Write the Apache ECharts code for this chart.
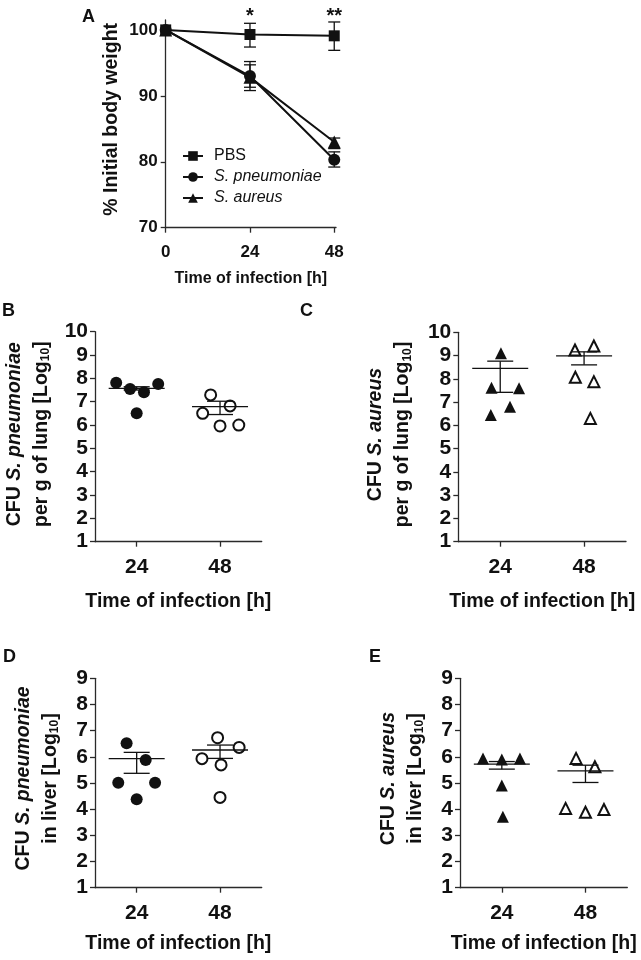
<!DOCTYPE html>
<html>
<head>
<meta charset="utf-8">
<script src="https://cdn.jsdelivr.net/npm/echarts@6/dist/echarts.min.js"></script>
<style>html,body{margin:0;padding:0;background:#fff}#c{width:641px;height:960px}</style>
</head>
<body>
<div id="c"></div>
<script>
// ---------- Panel A: body weight ----------
const weightHours = [0, 24, 48];
const pbsMean = [100, 99.3, 99.1];
const pbsLo   = [100, 97.4, 96.9];
const pbsHi   = [100, 101.0, 101.2];
const spnMean = [100, 93.0, 80.3];
const spnLo   = [100, 90.8, 79.2];
const spnHi   = [100, 95.2, 81.5];
const sauMean = [100, 92.8, 83.0];
const sauLo   = [100, 91.3, 82.0];
const sauHi   = [100, 94.7, 83.6];
const starHours = [24, 48];
const starText = ['*', '**'];
const weightTicks = [70, 80, 90, 100];
const hourTicksA = [0, 24, 48];

// ---------- Panel B: S. pneumoniae lung ----------
const lungSpn24X = [18.1, 22.1, 26.1, 30.2, 24.0];
const lungSpn24Y = [7.81, 7.54, 7.40, 7.76, 6.50];
const lungSpn48X = [45.3, 43.0, 50.9, 48.0, 53.4];
const lungSpn48Y = [7.29, 6.50, 6.82, 5.96, 6.00];
const lungSpnMean = [7.57, 6.79];
const lungSpnLo   = [7.50, 6.45];
const lungSpnHi   = [7.64, 7.02];

// ---------- Panel C: S. aureus lung ----------
const lungSau24X = [24.2, 21.5, 29.4, 26.8, 21.3];
const lungSau24Y = [9.10, 7.62, 7.59, 6.80, 6.45];
const lungSau48X = [45.4, 50.8, 45.5, 50.8, 49.8];
const lungSau48Y = [9.24, 9.41, 8.07, 7.88, 6.30];
const lungSauMean = [8.45, 8.99];
const lungSauLo   = [7.42, 8.60];
const lungSauHi   = [8.76, 9.16];

// ---------- Panel D: S. pneumoniae liver ----------
const liverSpn24X = [21.1, 26.6, 18.7, 29.3, 24.0];
const liverSpn24Y = [6.52, 5.88, 5.01, 5.01, 4.38];
const liverSpn48X = [47.3, 53.5, 42.8, 48.3, 48.0];
const liverSpn48Y = [6.73, 6.36, 5.93, 5.69, 4.45];
const liverSpnMean = [5.93, 6.26];
const liverSpnLo   = [5.37, 5.94];
const liverSpnHi   = [6.17, 6.45];

// ---------- Panel E: S. aureus liver ----------
const liverSau24X = [18.6, 24.0, 29.2, 24.0, 24.3];
const liverSau24Y = [5.94, 5.90, 5.94, 4.90, 3.71];
const liverSau48X = [45.3, 50.7, 42.3, 48.0, 53.3];
const liverSau48Y = [5.94, 5.62, 4.03, 3.88, 3.99];
const liverSauMean = [5.72, 5.46];
const liverSauLo   = [5.53, 5.02];
const liverSauHi   = [5.82, 5.68];

const groupHours = [24, 48];
const lungTicks = [1, 2, 3, 4, 5, 6, 7, 8, 9, 10];
const liverTicks = [1, 2, 3, 4, 5, 6, 7, 8, 9];
const panelLetters = ['A', 'B', 'C', 'D', 'E'];

const FONT = '"Liberation Sans", Arial, Helvetica, sans-serif';
const INK = '#111';
const AXIS = '#2a2a2a';

function zip(xs, ys) { return xs.map((x, i) => [x, ys[i]]); }
function errData(xs, m, lo, hi) { return xs.map((x, i) => [x, m[i], lo[i], hi[i]]); }

function errRender(hw, cw, lw) {
  return function (params, api) {
    const x = api.value(0), m = api.value(1), lo = api.value(2), hi = api.value(3);
    const pm = api.coord([x, m]), pl = api.coord([x, lo]), ph = api.coord([x, hi]);
    const st = { stroke: INK, lineWidth: lw, fill: null };
    const ch = [];
    if (hw > 0) ch.push({ type: 'line', shape: { x1: pm[0] - hw, y1: pm[1], x2: pm[0] + hw, y2: pm[1] }, style: st });
    if (hi !== lo) {
      ch.push({ type: 'line', shape: { x1: pm[0], y1: pl[1], x2: pm[0], y2: ph[1] }, style: st });
      ch.push({ type: 'line', shape: { x1: pm[0] - cw, y1: pl[1], x2: pm[0] + cw, y2: pl[1] }, style: st });
      ch.push({ type: 'line', shape: { x1: pm[0] - cw, y1: ph[1], x2: pm[0] + cw, y2: ph[1] }, style: st });
    }
    return { type: 'group', children: ch };
  };
}

const grids = [
  { left: 165.7, top: 20, width: 170.3, height: 207.7 },
  { left: 95, top: 331.7, width: 166.7, height: 210 },
  { left: 458.3, top: 332.3, width: 167.7, height: 209.4 },
  { left: 95, top: 678.3, width: 166.7, height: 209.4 },
  { left: 460, top: 678.3, width: 167.3, height: 209.4 }
].map(g => Object.assign({ containLabel: false, outerBoundsMode: 'none', show: false }, g));

function xAxisFor(i, ticks, min, max, fs, margin, gap, nameFs) {
  return {
    type: 'value', gridIndex: i, min: min, max: max,
    name: 'Time of infection [h]', nameLocation: 'middle', nameGap: gap,
    nameTextStyle: { fontFamily: FONT, fontWeight: 'bold', fontSize: nameFs, color: INK },
    axisLine: { onZero: false, lineStyle: { color: AXIS, width: 1.3 } },
    axisTick: { customValues: ticks, length: 5, lineStyle: { color: AXIS, width: 1.3 } },
    axisLabel: { customValues: ticks, margin: margin, fontFamily: FONT, fontWeight: 'bold', fontSize: fs, color: INK },
    splitLine: { show: false }
  };
}

const subRich = {
  r: { fontFamily: FONT, fontWeight: 'bold', fontSize: 19.5, color: INK, lineHeight: 27 },
  i: { fontFamily: FONT, fontWeight: 'bold', fontStyle: 'italic', fontSize: 19.5, color: INK, lineHeight: 27 },
  s: { fontFamily: FONT, fontWeight: 'bold', fontSize: 12, color: INK, lineHeight: 12, verticalAlign: 'bottom', padding: [0, 0, 3, 0] }
};

function yAxisFor(i, ticks, min, max, fs, margin, name, gap, nameFs, shift) {
  return {
    type: 'value', gridIndex: i, min: min, max: max,
    name: name, nameLocation: 'middle', nameRotate: 90, nameGap: gap,
    nameTextStyle: { fontFamily: FONT, fontWeight: 'bold', fontSize: nameFs, color: INK, lineHeight: 27, rich: subRich, padding: [0, 0, 0, shift] },
    axisLine: { onZero: false, lineStyle: { color: AXIS, width: 1.3 } },
    axisTick: { customValues: ticks, length: 5, lineStyle: { color: AXIS, width: 1.3 } },
    axisLabel: { customValues: ticks, margin: margin, fontFamily: FONT, fontWeight: 'bold', fontSize: fs, color: INK },
    splitLine: { show: false }
  };
}

const xAxes = [
  xAxisFor(0, hourTicksA, 0, 48.5, 17, 16, 43, 16),
  xAxisFor(1, groupHours, 12, 60, 21, 15, 50, 19.5),
  xAxisFor(2, groupHours, 12, 60, 21, 15, 50, 19.5),
  xAxisFor(3, groupHours, 12, 60, 21, 15, 46, 19.5),
  xAxisFor(4, groupHours, 12, 60, 21, 15, 46, 19.5)
];
const yAxes = [
  yAxisFor(0, weightTicks, 70, 101.5, 17, 8, '{r|% Initial body weight}', 41, 19.5, 9),
  yAxisFor(1, lungTicks, 1, 10, 21, 7, '{r|CFU }{i|S. pneumoniae}\n{r|per g of lung [Log}{s|10}{r|]}', 40, 19.5, 5),
  yAxisFor(2, lungTicks, 1, 10, 21, 7, '{r|CFU }{i|S. aureus}\n{r|per g of lung [Log}{s|10}{r|]}', 42, 19.5, 5),
  yAxisFor(3, liverTicks, 1, 9, 21, 7, '{r|CFU }{i|S. pneumoniae}\n{r|in liver [Log}{s|10}{r|]}', 31, 19.5, 9),
  yAxisFor(4, liverTicks, 1, 9, 21, 7, '{r|CFU }{i|S. aureus}\n{r|in liver [Log}{s|10}{r|]}', 31, 19.5, 9)
];

const series = [];
// Panel A lines
const lineDefs = [
  ['PBS', pbsMean, 'rect', 11, pbsLo, pbsHi],
  ['S. pneumoniae', spnMean, 'circle', 12, spnLo, spnHi],
  ['S. aureus', sauMean, 'triangle', 13, sauLo, sauHi]
];
lineDefs.forEach(d => {
  series.push({
    type: 'custom', xAxisIndex: 0, yAxisIndex: 0, z: 2,
    renderItem: errRender(0, 6, 1.3), data: errData(weightHours, d[1], d[4], d[5]), silent: true
  });
});
lineDefs.forEach(d => {
  series.push({
    name: d[0], type: 'line', xAxisIndex: 0, yAxisIndex: 0, z: 3,
    data: zip(weightHours, d[1]), symbol: d[2], symbolSize: d[3], showSymbol: true,
    lineStyle: { color: INK, width: 2 }, itemStyle: { color: INK }, animation: false
  });
});
series.push({
  type: 'custom', xAxisIndex: 0, yAxisIndex: 0, clip: false, silent: true,
  data: starHours.map((h, i) => [h, 101.5, i]),
  renderItem: function (params, api) {
    const p = api.coord([api.value(0), api.value(1)]);
    return { type: 'text', x: p[0], y: p[1] - 4, style: { text: starText[api.value(2)], fontFamily: FONT, fontWeight: 'bold', fontSize: 20, fill: INK, align: 'center', verticalAlign: 'middle' } };
  }
});

function dotPanel(idx, x24, y24, x48, y48, mean, lo, hi, shape) {
  series.push({ type: 'custom', xAxisIndex: idx, yAxisIndex: idx, z: 1, silent: true,
    renderItem: errRender(28, 13, 1.3), data: errData(groupHours, mean, lo, hi) });
  series.push({ type: 'scatter', xAxisIndex: idx, yAxisIndex: idx, z: 3, symbol: shape, symbolSize: 12,
    data: zip(x24, y24), itemStyle: { color: INK, opacity: 1 } });
  series.push({ type: 'scatter', xAxisIndex: idx, yAxisIndex: idx, z: 3, symbol: shape, symbolSize: 11,
    data: zip(x48, y48), itemStyle: { color: 'rgba(0,0,0,0)', borderColor: INK, borderWidth: 2, opacity: 1 } });
}
dotPanel(1, lungSpn24X, lungSpn24Y, lungSpn48X, lungSpn48Y, lungSpnMean, lungSpnLo, lungSpnHi, 'circle');
dotPanel(2, lungSau24X, lungSau24Y, lungSau48X, lungSau48Y, lungSauMean, lungSauLo, lungSauHi, 'triangle');
dotPanel(3, liverSpn24X, liverSpn24Y, liverSpn48X, liverSpn48Y, liverSpnMean, liverSpnLo, liverSpnHi, 'circle');
dotPanel(4, liverSau24X, liverSau24Y, liverSau48X, liverSau48Y, liverSauMean, liverSauLo, liverSauHi, 'triangle');

const letterPos = [[82, 8], [2, 302], [300, 302], [3, 648], [369, 648]];
const graphics = panelLetters.map((t, i) => ({
  type: 'text', left: letterPos[i][0], top: letterPos[i][1],
  style: { text: t, fontFamily: FONT, fontWeight: 'bold', fontSize: 18, fill: INK }
}));

const chart = echarts.init(document.getElementById('c'), null, { renderer: 'canvas' });
chart.setOption({
  animation: false,
  backgroundColor: '#fff',
  grid: grids,
  xAxis: xAxes,
  yAxis: yAxes,
  legend: {
    data: lineDefs.map(d => d[0]), orient: 'vertical', left: 177, top: 143,
    itemWidth: 20, itemHeight: 12, itemGap: 5, selectedMode: false,
    formatter: n => n === 'PBS' ? '{n|PBS}' : '{i|' + n + '}',
    textStyle: {
      fontFamily: FONT, fontSize: 16, color: INK, padding: [0, 0, 0, 6],
      rich: { n: { fontFamily: FONT, fontSize: 16, color: INK, lineHeight: 16 }, i: { fontFamily: FONT, fontSize: 16, fontStyle: 'italic', color: INK, lineHeight: 16 } }
    }
  },
  graphic: graphics,
  series: series
});
</script>
</body>
</html>
